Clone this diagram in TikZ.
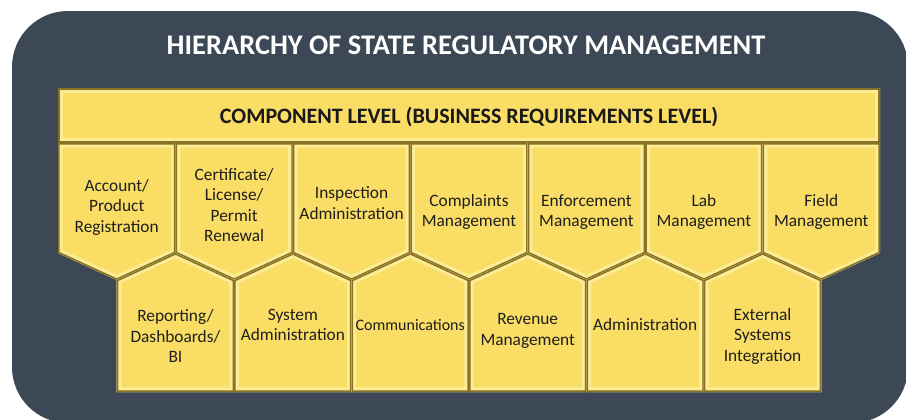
\documentclass[tikz,border=0pt]{standalone}
\usepackage{fontspec}
\setmainfont{Carlito}
\usetikzlibrary{positioning}
\definecolor{slatebg}{RGB}{60,72,86}
\definecolor{cellgold}{RGB}{249,221,100}
\definecolor{bevellight}{RGB}{253,236,150}
\definecolor{beveldark}{RGB}{135,114,40}

\tikzset{
  titletext/.style={text=white, font=\fontsize{21.3}{25}\selectfont\bfseries},
  bartext/.style={text=black!90, font=\fontsize{16.5}{19}\selectfont\bfseries},
  celltext/.style={align=center, text=black!88, font=\fontsize{13}{15.4}\selectfont},
}

% one gold cell with a bevelled edge
\newcommand{\bevelcell}[1]{%
  \begin{scope}
    \clip #1 -- cycle;
    \fill[cellgold] #1 -- cycle;
    \draw[bevellight, line width=7] #1 -- cycle;
    \draw[beveldark, line width=2.4] #1 -- cycle;
  \end{scope}}

\begin{document}
\begin{tikzpicture}[x=0.75pt, y=-0.75pt]
  \useasboundingbox (0,0) rectangle (906,419);
  \clip (0,0) rectangle (906,419);

  % dark panel
  \fill[slatebg, rounded corners=42] (12,11) rectangle (908,423);
  \node[titletext] (title) at (466,45) {HIERARCHY OF STATE REGULATORY MANAGEMENT};

  % component bar
  \bevelcell{(58,88) -- (880,88) -- (880,143) -- (58,143)}
  \node[bartext] (component) at (469,117) {COMPONENT LEVEL (BUSINESS REQUIREMENTS LEVEL)};

  % upper row, pointing down
  \foreach \i/\ty/\txt in {0/207/{Account/\\Product\\Registration},
                           1/205/{Certificate/\\License/\\Permit\\Renewal},
                           2/203/{Inspection\\Administration},
                           3/212/{Complaints\\Management},
                           4/212/{Enforcement\\Management},
                           5/212/{Lab\\Management},
                           6/212/{Field\\Management}} {
    \pgfmathsetmacro\xl{58+117.43*\i}
    \pgfmathsetmacro\xr{\xl+117.43}
    \pgfmathsetmacro\xc{\xl+58.71}
    \bevelcell{(\xl,143) -- (\xr,143) -- (\xr,253) -- (\xc,280) -- (\xl,253)}
    \node[celltext] (top\i) at (\xc,\ty) {\txt};
  }

  % lower row, pointing up
  \foreach \j/\ty/\txt in {0/336/{Reporting/\\Dashboards/\\BI},
                           1/325/{System\\Administration},
                           2/325/{\fontsize{12}{15}\selectfont Communications},
                           3/331/{Revenue\\Management},
                           4/325/{Administration},
                           5/336/{External\\Systems\\Integration}} {
    \pgfmathsetmacro\xl{116.71+117.43*\j}
    \pgfmathsetmacro\xr{\xl+117.43}
    \pgfmathsetmacro\xc{\xl+58.71}
    \bevelcell{(\xl,280) -- (\xc,253) -- (\xr,280) -- (\xr,392) -- (\xl,392)}
    \node[celltext] (bot\j) at (\xc,\ty) {\txt};
  }
\end{tikzpicture}
\end{document}
